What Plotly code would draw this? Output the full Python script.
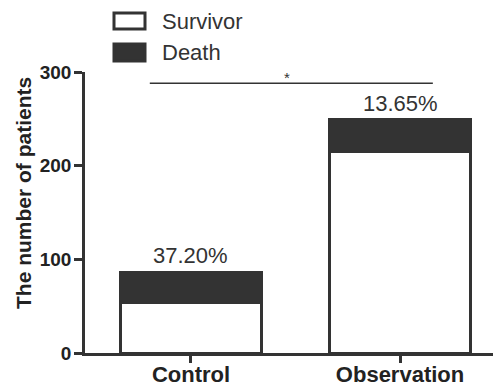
import plotly.graph_objects as go

groups = ["Control", "Observation"]
survivor = [54, 215]
death = [32, 34]
death_pct = ["37.20%", "13.65%"]
y_ticks = [0, 100, 200, 300]

DARK = "#333333"
FONT = "Liberation Sans, Arial, sans-serif"

# page body has an 8px margin, so figure is drawn 8px in from the top-left
OFF = 8

fig = go.Figure()
fig.add_trace(go.Bar(x=groups, y=survivor, name="Survivor", width=0.675,
                     marker=dict(color="white", line=dict(color=DARK, width=3))))
fig.add_trace(go.Bar(x=groups, y=death, name="Death", width=0.675,
                     marker=dict(color=DARK, line=dict(color=DARK, width=3))))

totals = [s + d for s, d in zip(survivor, death)]
for g, t, p in zip(groups, totals, death_pct):
    fig.add_annotation(x=g, y=t, text=p, showarrow=False, yanchor="bottom", yshift=2,
                       font=dict(family=FONT, size=22, color=DARK))

# significance bracket
fig.add_shape(type="line", xref="x", yref="y", x0=-0.197, x1=1.157, y0=288, y1=288,
              line=dict(color=DARK, width=1.5))
fig.add_annotation(x=0.459, y=288, text="*", showarrow=False, yanchor="bottom", yshift=-5,
                   font=dict(family=FONT, size=15, color=DARK))

# legend drawn manually (screen pixel -> paper coordinates)
def px_x(px):
    return (px - 85) / 416
def px_y(py):
    return (353 - py) / 281

legend_items = [("Survivor", "white", 13, 29), ("Death", DARK, 44, 61)]
for name, fill, top, bot in legend_items:
    fig.add_shape(type="rect", xref="paper", yref="paper",
                  x0=px_x(114), x1=px_x(145), y0=px_y(bot), y1=px_y(top),
                  line=dict(color=DARK, width=3), fillcolor=fill)
    fig.add_annotation(xref="paper", yref="paper", x=px_x(160), y=px_y((top + bot) / 2),
                       text=name, showarrow=False, xanchor="left", yanchor="middle",
                       font=dict(family=FONT, size=22, color=DARK))

# y-axis title
fig.add_annotation(xref="paper", yref="paper", x=px_x(23), y=px_y(193),
                   text="<b>The number of patients</b>", textangle=-90, showarrow=False,
                   xanchor="center", yanchor="middle",
                   font=dict(family=FONT, size=21, color="#222"))

fig.update_layout(
    barmode="stack",
    width=501 - OFF, height=388 - OFF,
    margin=dict(l=85 - OFF, r=0, t=72 - OFF, b=35, autoexpand=False),
    paper_bgcolor="white", plot_bgcolor="white",
    showlegend=False,
    font=dict(family=FONT, color=DARK),
)
fig.update_xaxes(range=[-0.507, 1.483], showline=True, linecolor=DARK, linewidth=2.5,
                 ticks="outside", ticklen=7, tickwidth=2.5, tickcolor=DARK,
                 tickfont=dict(family=FONT, size=22, color="#222", weight="bold"),
                 ticklabelstandoff=-7,
                 showgrid=False, zeroline=False, automargin=False)
fig.update_yaxes(range=[0, 300], tickvals=y_ticks, showline=True, linecolor=DARK, linewidth=2.5,
                 ticks="outside", ticklen=8, tickwidth=2.5, tickcolor=DARK,
                 tickfont=dict(family=FONT, size=19, color="#222", weight="bold"),
                 ticklabelstandoff=-1,
                 showgrid=False, zeroline=False, automargin=False)

fig.write_html("out.html")
